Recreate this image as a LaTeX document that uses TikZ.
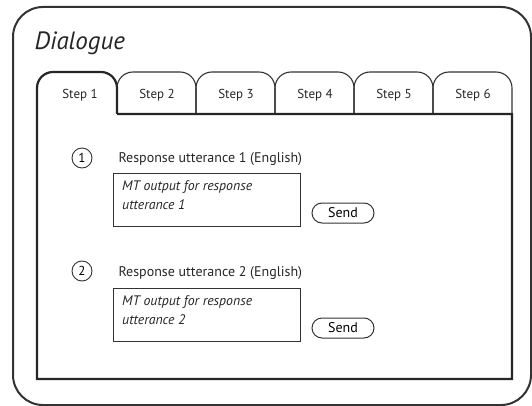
\documentclass[tikz,border=0pt]{standalone}
\usepackage{fontspec}
\setmainfont{PT Sans}
\begin{document}
\begin{tikzpicture}[x=1pt, y=-1pt,
  frame/.style={line width=2pt, draw=black!80},
  tab/.style={line width=1.1pt, draw=black!80, rounded corners=16pt},
  panel/.style={line width=2.2pt, draw=black!85},
  steplabel/.style={font=\fontsize{13}{15}\selectfont, text=black!85},
  numcircle/.style={circle, draw=black!80, line width=0.9pt, minimum size=20pt, inner sep=0pt, font=\fontsize{13}{15}\selectfont},
  resptext/.style={anchor=base west, font=\fontsize{14}{16}\selectfont, text=black!85},
  mtbox/.style={draw=black!80, line width=1.1pt, minimum width=187pt, minimum height=53pt, anchor=north west},
  mttext/.style={anchor=north west, align=left, font=\itshape\fontsize{13.8}{19}\selectfont, text=black!85, inner sep=0pt},
  sendbtn/.style={draw=black!80, line width=1pt, rounded corners=10pt, minimum width=62pt, minimum height=20pt, inner sep=0pt, font=\fontsize{14}{16}\selectfont}]
\useasboundingbox (0,0) rectangle (532,406);

% outer frame and title
\draw[frame, rounded corners=30pt] (13,7) rectangle (531,405);
\node[anchor=base west, font=\itshape\fontsize{25}{30}\selectfont, text=black!85] (title) at (31,50) {Dialogue};

% inactive tabs
\draw[tab] (117,114) -- (117,72) -- (196,72) -- (196,114);
\draw[tab] (196,114) -- (196,72) -- (275,72) -- (275,114);
\draw[tab] (275,114) -- (275,72) -- (354,72) -- (354,114);
\draw[tab] (354,114) -- (354,72) -- (433,72) -- (433,114);
\draw[tab] (433,114) -- (433,72) -- (512,72) -- (512,114);

% active tab and panel
\draw[panel] (117,114) -- (512,114) -- (512,379) -- (37,379) -- (37,100)
  {[rounded corners=16pt] -- (37,72) -- (117,72) -- (117,114)};

% tab labels
\node[steplabel] (step1) at (80,95) {Step 1};
\node[steplabel] (step2) at (157,95) {Step 2};
\node[steplabel] (step3) at (236,95) {Step 3};
\node[steplabel] (step4) at (315,95) {Step 4};
\node[steplabel] (step5) at (394,95) {Step 5};
\node[steplabel] (step6) at (473,95) {Step 6};

% response 1
\node[numcircle] (num1) at (82,158) {1};
\node[resptext] (resp1) at (115,163) {Response utterance 1 (English)};
\node[mtbox] (box1) at (113,173) {};
\node[mttext] (mt1) at (122,180) {MT output for response\\utterance 1};
\node[sendbtn] (send1) at (343,213) {Send};

% response 2
\node[numcircle] (num2) at (82,271) {2};
\node[resptext] (resp2) at (115,276) {Response utterance 2 (English)};
\node[mtbox] (box2) at (113,288) {};
\node[mttext] (mt2) at (122,295) {MT output for response\\utterance 2};
\node[sendbtn] (send2) at (343,328) {Send};
\end{tikzpicture}
\end{document}
